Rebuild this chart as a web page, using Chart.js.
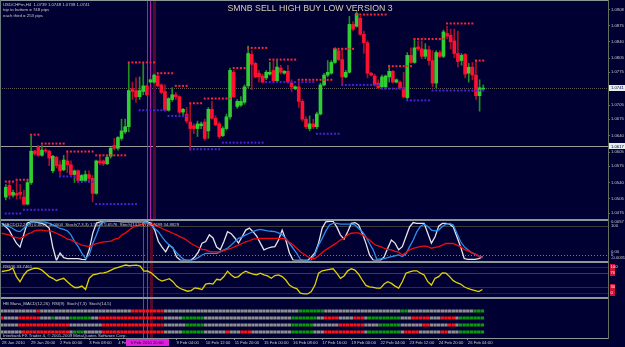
<!DOCTYPE html>
<html>
<head>
<meta charset="utf-8">
<script src="https://cdn.jsdelivr.net/npm/chart.js@4.4.1/dist/chart.umd.min.js"></script>
<style>
html, body { margin: 0; padding: 0; background: #000033; }
#wrap { position: relative; width: 625px; height: 347px; background: #000033; overflow: hidden; }
#wrap canvas { position: absolute; left: 0; }
</style>
</head>
<body>
<div id="wrap">
  <canvas id="cMain" width="625" height="219" style="top:0px"></canvas>
  <canvas id="cOsc" width="625" height="42" style="top:219px"></canvas>
  <canvas id="cRsi" width="625" height="36" style="top:261px"></canvas>
  <canvas id="cHeat" width="625" height="50" style="top:297px"></canvas>
</div>
<script>
// ---- data ----
const chartTitle = 'SMNB SELL HIGH BUY LOW VERSION 3';
const symbolInfo = ['USDCHFm,H4  1.0739 1.0748 1.0738 1.0741', 'top to bottom = 748 pips', 'each third = 253 pips'];
const slotCount = 167; // bars that fit in the window, including the empty right margin

const opens = [1.0509,1.0534,1.0513,1.0517,1.0519,1.0509,1.0494,1.0540,1.0607,1.0615,1.0598,1.0609,1.0607,1.0565,1.0594,1.0578,1.0567,1.0586,1.0578,1.0557,
  1.0565,1.0544,1.0544,1.0557,1.0549,1.0517,1.0586,1.0586,1.0580,1.0596,1.0619,1.0613,1.0634,1.0648,1.0659,1.0740,1.0736,1.0723,1.0734,1.0746,
  1.0754,1.0754,1.0767,1.0748,1.0734,1.0694,1.0717,1.0727,1.0723,1.0690,1.0686,1.0669,1.0661,1.0655,1.0661,1.0669,1.0650,1.0696,1.0677,1.0665,
  1.0640,1.0655,1.0680,1.0775,1.0702,1.0705,1.0711,1.0746,1.0813,1.0794,1.0773,1.0767,1.0763,1.0771,1.0779,1.0757,1.0784,1.0773,1.0777,1.0752,
  1.0740,1.0744,1.0713,1.0675,1.0655,1.0665,1.0659,1.0686,1.0748,1.0769,1.0773,1.0796,1.0821,1.0802,1.0765,1.0775,1.0877,1.0873,1.0890,1.0856,
  1.0838,1.0773,1.0767,1.0752,1.0744,1.0744,1.0765,1.0777,1.0754,1.0754,1.0742,1.0721,1.0811,1.0796,1.0829,1.0825,1.0809,1.0823,1.0800,1.0752,
  1.0817,1.0809,1.0858,1.0854,1.0842,1.0815,1.0800,1.0813,1.0773,1.0786,1.0769,1.0725,1.0739];
const highs = [1.0536,1.0544,1.0524,1.0544,1.0536,1.0524,1.0546,1.0640,1.0609,1.0619,1.0619,1.0613,1.0609,1.0598,1.0596,1.0586,1.0598,1.0607,1.0586,1.0567,
  1.0567,1.0557,1.0565,1.0565,1.0555,1.0588,1.0598,1.0588,1.0598,1.0615,1.0634,1.0638,1.0675,1.0675,1.0794,1.0754,1.0763,1.0765,1.0794,1.0748,
  1.0761,1.0771,1.0773,1.0750,1.0748,1.0721,1.0742,1.0732,1.0725,1.0698,1.0700,1.0707,1.0665,1.0671,1.0669,1.0675,1.0700,1.0713,1.0682,1.0669,
  1.0659,1.0686,1.0784,1.0779,1.0717,1.0723,1.0748,1.0831,1.0821,1.0796,1.0779,1.0771,1.0779,1.0796,1.0800,1.0800,1.0790,1.0779,1.0790,1.0759,
  1.0746,1.0752,1.0717,1.0680,1.0682,1.0675,1.0690,1.0752,1.0773,1.0800,1.0800,1.0827,1.0825,1.0825,1.0779,1.0894,1.0883,1.0904,1.0894,1.0863,
  1.0842,1.0775,1.0771,1.0759,1.0769,1.0769,1.0790,1.0779,1.0761,1.0757,1.0775,1.0817,1.0827,1.0846,1.0842,1.0842,1.0836,1.0831,1.0821,1.0821,
  1.0821,1.0865,1.0873,1.0867,1.0867,1.0863,1.0815,1.0815,1.0794,1.0796,1.0800,1.0759,1.0748];
const lows = [1.0503,1.0505,1.0509,1.0505,1.0505,1.0492,1.0492,1.0536,1.0598,1.0596,1.0596,1.0603,1.0576,1.0561,1.0571,1.0555,1.0565,1.0561,1.0555,1.0540,
  1.0540,1.0540,1.0542,1.0540,1.0499,1.0515,1.0578,1.0576,1.0578,1.0592,1.0609,1.0609,1.0630,1.0644,1.0648,1.0717,1.0711,1.0717,1.0727,1.0725,
  1.0752,1.0752,1.0744,1.0729,1.0692,1.0692,1.0713,1.0717,1.0686,1.0684,1.0667,1.0609,1.0644,1.0638,1.0655,1.0630,1.0634,1.0675,1.0661,1.0634,
  1.0638,1.0652,1.0675,1.0721,1.0698,1.0702,1.0707,1.0742,1.0738,1.0763,1.0754,1.0752,1.0759,1.0769,1.0754,1.0754,1.0771,1.0771,1.0752,1.0734,
  1.0738,1.0700,1.0671,1.0655,1.0650,1.0655,1.0655,1.0684,1.0746,1.0765,1.0771,1.0794,1.0800,1.0748,1.0763,1.0773,1.0863,1.0871,1.0854,1.0815,
  1.0763,1.0767,1.0746,1.0740,1.0742,1.0742,1.0754,1.0752,1.0752,1.0740,1.0721,1.0717,1.0794,1.0794,1.0821,1.0804,1.0804,1.0790,1.0744,1.0742,
  1.0806,1.0806,1.0846,1.0825,1.0806,1.0786,1.0790,1.0763,1.0754,1.0759,1.0717,1.0692,1.0738];
const closes = [1.0530,1.0513,1.0519,1.0513,1.0515,1.0494,1.0540,1.0607,1.0601,1.0598,1.0609,1.0607,1.0592,1.0596,1.0576,1.0565,1.0588,1.0578,1.0557,1.0565,
  1.0544,1.0555,1.0557,1.0549,1.0517,1.0586,1.0582,1.0580,1.0594,1.0613,1.0613,1.0636,1.0650,1.0659,1.0736,1.0734,1.0723,1.0736,1.0746,1.0727,
  1.0759,1.0769,1.0746,1.0732,1.0694,1.0719,1.0727,1.0723,1.0690,1.0696,1.0671,1.0655,1.0655,1.0665,1.0665,1.0634,1.0696,1.0677,1.0663,1.0638,
  1.0655,1.0680,1.0779,1.0723,1.0713,1.0713,1.0744,1.0815,1.0792,1.0765,1.0765,1.0754,1.0775,1.0775,1.0757,1.0786,1.0775,1.0777,1.0754,1.0744,
  1.0744,1.0713,1.0675,1.0659,1.0665,1.0659,1.0686,1.0748,1.0769,1.0775,1.0796,1.0825,1.0802,1.0765,1.0775,1.0877,1.0867,1.0900,1.0856,1.0838,
  1.0773,1.0769,1.0748,1.0742,1.0765,1.0767,1.0777,1.0754,1.0759,1.0742,1.0723,1.0811,1.0796,1.0827,1.0825,1.0809,1.0823,1.0800,1.0752,1.0817,
  1.0809,1.0861,1.0852,1.0840,1.0815,1.0798,1.0811,1.0771,1.0786,1.0769,1.0725,1.0742,1.0741];

// [first bar, last bar, price]
const resistanceSegs = [[0,2,1.0542],[3,6,1.0546],[7,9,1.0642],[10,16,1.0623],[17,24,1.0606],[25,33,1.0598],[34,41,1.0796],[42,46,1.0773],
  [47,50,1.0746],[51,54,1.0709],[55,62,1.0719],[63,66,1.0784],[67,72,1.0827],[73,80,1.0802],[81,90,1.0759],[91,96,1.0825],[97,105,1.0898],
  [106,112,1.0788],[113,121,1.0846],[122,129,1.0879],[130,132,1.0800]];
const supportSegs = [[0,4,1.0474],[5,14,1.0482],[15,19,1.0553],[20,24,1.0542],[25,36,1.0494],[37,44,1.0694],[45,50,1.0682],[51,59,1.0611],
  [60,71,1.0625],[72,85,1.0754],[86,92,1.0644],[93,103,1.0748],[104,110,1.0740],[111,117,1.0715],[118,132,1.0736]];

const priceTicks = [1.0908,1.0875,1.0840,1.0805,1.0775,1.0705,1.0675,1.0640,1.0605,1.0575,1.0540,1.0505,1.0475];
const currentPrice = 1.0741;
const markedPrice = 1.0617;

const stochFast = [94,86,77,60,44,34,65,95,98,98,96,94,90,82,34,0,19,7,5,5,5,5,3,2,27,70,95,98,98,99,99,99,99,98,98,98,98,98,98,98,
  98,94,77,48,34,22,39,32,9,1,0,0,1,9,22,44,48,65,57,34,27,48,73,68,57,44,60,77,82,73,62,44,27,31,34,35,52,77,52,19,
  1,0,0,0,0,9,19,44,82,98,99,99,85,65,54,73,94,96,90,69,44,14,1,0,0,9,31,52,44,27,35,60,85,96,94,94,94,69,44,60,
  87,94,94,92,85,60,35,5,3,3,3,5,9];
const stochMain = [90,88,86,81,75,73,81,90,97,98,98,98,97,94,90,86,81,79,75,65,48,35,18,5,14,43,65,90,98,100,100,100,100,100,100,100,100,100,100,98,
  96,90,81,73,60,48,39,31,20,10,3,0,0,3,8,14,18,18,18,18,22,27,31,39,48,56,60,65,69,73,77,79,77,75,74,73,70,65,56,43,
  31,18,3,0,0,1,15,39,56,75,90,94,94,92,92,92,92,90,81,73,60,43,27,3,4,5,7,10,12,14,10,17,35,52,73,87,92,86,77,75,
  77,86,92,94,90,69,48,35,27,20,16,11,10];
const stochSlow = [69,67,65,60,58,56,60,67,70,75,77,77,75,75,73,69,65,60,54,52,48,43,39,37,35,39,43,45,47,48,49,54,56,65,70,77,84,88,91,92,
  94,92,90,86,81,77,73,69,65,60,56,50,43,38,33,28,27,23,22,22,22,25,28,31,35,39,43,47,50,54,55,56,56,56,56,56,56,56,54,46,
  39,31,22,16,10,5,5,12,20,27,33,39,45,52,57,65,69,70,70,65,59,52,43,38,35,31,28,27,23,21,14,20,27,31,33,35,37,35,31,33,
  35,39,43,43,43,39,35,28,25,20,16,11,7];
const oscLevels = [87, 14];

const rsi = [75,77,79,85,60,45,64,77,81,85,84,79,70,60,55,48,52,55,45,35,28,28,32,22,55,65,67,70,71,74,79,84,87,91,94,92,93,94,91,76,
  77,71,62,52,47,50,54,45,32,25,21,17,19,27,25,22,38,40,38,52,50,60,76,65,57,60,70,76,71,67,65,70,65,62,55,63,65,60,50,35,
  28,25,11,9,9,16,35,70,77,79,81,83,70,55,62,77,83,79,67,50,34,30,28,26,26,38,45,40,32,26,45,70,74,77,77,70,65,45,35,55,
  60,71,70,60,48,42,38,30,25,22,19,16,22];
const rsiLevels = [88, 70, 30, 12];

// heat map rows, run-length: [count, state]  r = red, g = green, . = grey
const heatRows = [
  [[10,'.'],[1,'r'],[25,'.'],[9,'r'],[37,'.'],[7,'g'],[21,'.'],[2,'g'],[18,'.'],[3,'g']],
  [[1,'r'],[4,'.'],[6,'r'],[3,'.'],[1,'g'],[4,'.'],[6,'g'],[2,'.'],[18,'r'],[5,'.'],[6,'g'],[24,'.'],[7,'g'],[2,'.'],[4,'r'],[4,'.'],[3,'r'],[1,'.'],[9,'g'],[3,'.'],[5,'r'],[3,'.'],[4,'r'],[1,'.'],[7,'g']],
  [[5,'.'],[14,'r'],[9,'.'],[17,'r'],[6,'.'],[5,'g'],[24,'.'],[6,'g'],[7,'.'],[7,'r'],[4,'.'],[6,'g'],[6,'.'],[2,'r'],[5,'.'],[2,'r'],[1,'.'],[7,'g']],
  [[6,'.'],[13,'r'],[1,'.'],[3,'g'],[5,'.'],[17,'r'],[5,'.'],[6,'g'],[6,'.'],[1,'r'],[3,'.'],[3,'r'],[11,'.'],[6,'g'],[3,'.'],[11,'r'],[1,'.'],[9,'g'],[1,'.'],[4,'r'],[6,'.'],[2,'r'],[3,'.'],[7,'g']]
];

const timeLabels = ['28 Jan 2010','29 Jan 20:00','2 Feb 00:00','3 Feb 08:00','4 Feb 16:00','','9 Feb 04:00','10 Feb 12:00','11 Feb 20:00',
  '15 Feb 00:00','16 Feb 08:00','17 Feb 16:00','19 Feb 00:00','22 Feb 04:00','23 Feb 12:00','24 Feb 20:00','26 Feb 04:00'];
const labelEvery = 8;
const cursorLines = [{ bar: 38.9, color: '#b01cb0', width: 1 }, { bar: 40.0, color: '#b01cb0', width: 1 }, { bar: 40.85, color: '#55082c', width: 3 }];
const cursorLabel = { bar: 34.0, text: '5 Feb 2010 20:00' };

const oscText = 'MACD(12,26,9) 0.0026 -0.0004  Stoch(7,3,3) 1.5625 5.6576  Stoch(14,5,5) 28.7699 34.8829';
const oscSideLabels = [['0.0057', 97], ['100', 89], ['0.00', 21], ['0', 14], ['-0.0031', 6]];
const rsiText = 'RSI(9) 33.7461';
const rsiSideLabels = [['100', 88], ['70', 70], ['30', 30], ['0', 12]];
const heatText = 'HB Mana_MACD(12,26)  RSI(9)  Stoch(7,3)  Stoch(14,5)';
const footerText = 'Interbank FX Trader 4, \u00a9 2001-2009 MetaQuotes Software Corp.';

// ---- styling ----
const FONT = '"Liberation Sans", Arial, sans-serif';
const TXT = '#c9c9c9';
const SEP = '#8a9898';
const AXIS = '#62725f';
const upBody = '#32cd32', downBody = '#ff1030', upWick = '#1f8f1f', downWick = '#a8102a';
const heatColors = { '.': '#8e8e8e', r: '#ff1414', g: '#0c9a0c' };

const slots = Array.from({ length: slotCount }, (_, i) => String(i));

function segPoints(segs) {
  const out = new Array(opens.length).fill(null);
  segs.forEach(([a, b, p]) => { for (let i = a; i <= b; i++) out[i] = p; });
  return out;
}
function expandRuns(runs) {
  const out = [];
  runs.forEach(([n, s]) => { for (let i = 0; i < n; i++) out.push(s); });
  return out;
}
function barX(chart, b) {
  const x = chart.scales.x;
  const step = x.getPixelForValue(1) - x.getPixelForValue(0);
  return x.getPixelForValue(0) + b * step;
}
function txt(ctx, s, x, y, size, color, align) {
  ctx.font = size + 'px ' + FONT;
  ctx.fillStyle = color;
  ctx.textAlign = align || 'left';
  ctx.textBaseline = 'middle';
  ctx.fillText(s, x, y);
}

// frame, separators and cursor lines, shared by all panes
function paneFrame(opts) {
  return {
    id: 'paneFrame',
    beforeDatasetsDraw(chart) {
      const ctx = chart.ctx;
      const bottom = opts.bottom != null ? opts.bottom : chart.height;
      ctx.save();
      cursorLines.forEach(m => {
        const x = Math.round(barX(chart, m.bar)) + 0.5;
        ctx.strokeStyle = m.color; ctx.lineWidth = m.width;
        ctx.beginPath(); ctx.moveTo(x, 0); ctx.lineTo(x, bottom); ctx.stroke();
      });
      ctx.restore();
    },
    afterDraw(chart) {
      const ctx = chart.ctx, right = chart.chartArea.right;
      const bottom = opts.bottom != null ? opts.bottom : chart.height;
      ctx.save();
      ctx.fillStyle = SEP;
      if (opts.sep) ctx.fillRect(0, 0, right, opts.sep);
      if (opts.bottom != null) ctx.fillRect(0, opts.bottom, right + 1, 1);
      ctx.fillStyle = '#6c7a7a';
      ctx.fillRect(0, 0, 1, bottom);
      ctx.fillStyle = AXIS;
      ctx.fillRect(right, 0, 1, bottom + 1);
      ctx.restore();
      if (opts.after) opts.after(chart);
    }
  };
}

function yRight(extra) {
  return Object.assign({
    position: 'right',
    afterFit(s) { s.width = 17; },
    border: { display: false },
    grid: { display: false },
    ticks: { display: false }
  }, extra);
}
const xHidden = { type: 'category', display: false, offset: true };
const baseOpts = { responsive: false, animation: false, devicePixelRatio: 1, events: [],
  plugins: { legend: { display: false }, tooltip: { enabled: false } } };

// ---- main price pane ----
new Chart(document.getElementById('cMain'), {
  type: 'bar',
  data: {
    labels: slots,
    datasets: [
      { type: 'line', data: segPoints(resistanceSegs), showLine: false, pointStyle: 'rect', pointRadius: 1.4,
        pointBackgroundColor: '#ff2438', pointBorderWidth: 0, order: 1 },
      { type: 'line', data: segPoints(supportSegs), showLine: false, pointStyle: 'rect', pointRadius: 1.4,
        pointBackgroundColor: '#4b22d6', pointBorderWidth: 0, order: 1 },
      { data: opens.map((o, i) => [o, closes[i]]), grouped: false, barThickness: 3, minBarLength: 1, order: 2,
        backgroundColor: opens.map((o, i) => closes[i] >= o ? upBody : downBody) },
      { data: lows.map((l, i) => [l, highs[i]]), grouped: false, barThickness: 1, order: 3,
        backgroundColor: opens.map((o, i) => closes[i] >= o ? upWick : downWick) }
    ]
  },
  options: Object.assign({}, baseOpts, {
    layout: { padding: { top: 2, bottom: 1, left: 0, right: 0 } },
    scales: {
      x: xHidden,
      y: {
        position: 'right', min: 1.04708, max: 1.09205,
        afterFit(s) { s.width = 17; },
        afterBuildTicks(s) { s.ticks = priceTicks.map(v => ({ value: v })); },
        border: { display: false },
        grid: { drawOnChartArea: false, drawTicks: true, tickLength: 2, color: AXIS },
        ticks: { color: TXT, padding: 1, font: { size: 4.2, family: FONT }, callback: v => v.toFixed(4) }
      }
    }
  }),
  plugins: [
    {
      id: 'priceLines',
      beforeDatasetsDraw(chart) {
        const ctx = chart.ctx, y = chart.scales.y, r = chart.chartArea.right;
        ctx.save();
        const yc = Math.round(y.getPixelForValue(currentPrice)) + 0.5;
        ctx.strokeStyle = '#5c5c5c'; ctx.lineWidth = 1; ctx.setLineDash([1, 1]);
        ctx.beginPath(); ctx.moveTo(0, yc); ctx.lineTo(r, yc); ctx.stroke();
        ctx.setLineDash([]);
        const ym = Math.round(y.getPixelForValue(markedPrice)) + 0.5;
        ctx.strokeStyle = '#9c9c9c';
        ctx.beginPath(); ctx.moveTo(0, ym); ctx.lineTo(r, ym); ctx.stroke();
        ctx.restore();
      },
      afterDraw(chart) {
        const ctx = chart.ctx, y = chart.scales.y, r = chart.chartArea.right;
        ctx.save();
        [currentPrice, markedPrice].forEach(p => {
          const py = y.getPixelForValue(p);
          ctx.fillStyle = '#e4eef0';
          ctx.fillRect(r + 1, Math.round(py) - 3, 16, 6);
          txt(ctx, p.toFixed(4), r + 3, py, 4.2, '#000033');
        });
        // title, squeezed to the narrow face used in the terminal
        ctx.save();
        ctx.translate(310, 8.5);
        ctx.scale(0.92, 1);
        txt(ctx, chartTitle, 0, 0, 9.5, '#d4cdb6', 'center');
        ctx.restore();
        symbolInfo.forEach((s, i) => txt(ctx, s, 3, 5 + i * 5.3, 4.3, TXT));
        ctx.restore();
      }
    },
    paneFrame({ sep: 1 })
  ]
});

// ---- MACD / stochastic pane ----
new Chart(document.getElementById('cOsc'), {
  type: 'line',
  data: {
    labels: slots,
    datasets: [
      { data: stochSlow, borderColor: '#f00c0c', borderWidth: 1.3, pointRadius: 0 },
      { data: stochMain, borderColor: '#2c8ee8', borderWidth: 1.3, pointRadius: 0 },
      { data: stochFast, borderColor: '#e6e6e6', borderWidth: 1.3, pointRadius: 0 }
    ]
  },
  options: Object.assign({}, baseOpts, {
    layout: { padding: { top: 2, bottom: 0.5, left: 0, right: 0 } },
    scales: { x: xHidden, y: yRight({ min: 0, max: 100 }) }
  }),
  plugins: [
    {
      id: 'oscLevels',
      beforeDatasetsDraw(chart) {
        const ctx = chart.ctx, y = chart.scales.y, r = chart.chartArea.right;
        ctx.save();
        const y0 = Math.round(y.getPixelForValue(oscLevels[0])) + 0.5;
        ctx.strokeStyle = '#3c3c3c'; ctx.lineWidth = 1;
        ctx.beginPath(); ctx.moveTo(0, y0); ctx.lineTo(r, y0); ctx.stroke();
        const y1 = Math.round(y.getPixelForValue(oscLevels[1])) + 0.5;
        ctx.strokeStyle = '#7a7a7a'; ctx.setLineDash([1, 2]);
        ctx.beginPath(); ctx.moveTo(0, y1); ctx.lineTo(r, y1); ctx.stroke();
        ctx.restore();
      }
    },
    paneFrame({
      sep: 2,
      after(chart) {
        const ctx = chart.ctx, y = chart.scales.y, r = chart.chartArea.right;
        txt(ctx, oscText, 3, 5.5, 4.3, TXT);
        oscSideLabels.forEach(([s, v]) => txt(ctx, s, r + 3, y.getPixelForValue(v), 4.2, TXT));
      }
    })
  ]
});

// ---- RSI pane ----
new Chart(document.getElementById('cRsi'), {
  type: 'line',
  data: { labels: slots, datasets: [{ data: rsi, borderColor: '#e2d200', borderWidth: 1.3, pointRadius: 0 }] },
  options: Object.assign({}, baseOpts, {
    layout: { padding: { top: 2, bottom: 0, left: 0, right: 0 } },
    scales: { x: xHidden, y: yRight({ min: 0, max: 100 }) }
  }),
  plugins: [
    {
      id: 'rsiLevels',
      beforeDatasetsDraw(chart) {
        const ctx = chart.ctx, y = chart.scales.y, r = chart.chartArea.right;
        const cols = ['#6a0a2c', '#8c1636', '#7a0c22', '#5c0818'];
        ctx.save();
        rsiLevels.forEach((lv, i) => {
          const py = Math.round(y.getPixelForValue(lv)) + 0.5;
          ctx.strokeStyle = cols[i]; ctx.lineWidth = 1;
          ctx.beginPath(); ctx.moveTo(0, py); ctx.lineTo(r, py); ctx.stroke();
        });
        ctx.restore();
      }
    },
    paneFrame({
      sep: 2,
      after(chart) {
        const ctx = chart.ctx, y = chart.scales.y, r = chart.chartArea.right;
        txt(ctx, rsiText, 3, 6, 4.3, TXT);
        rsiSideLabels.forEach(([s, v]) => {
          const py = y.getPixelForValue(v);
          ctx.fillStyle = '#d0103a';
          ctx.fillRect(r + 2, Math.round(py) - 3, 5, 6);
          txt(ctx, s, r + 2.5, py, 4.2, '#f0f0f0');
        });
      }
    })
  ]
});

// ---- heat map pane with the time axis ----
const heatStates = heatRows.map(expandRuns);
new Chart(document.getElementById('cHeat'), {
  type: 'bar',
  data: {
    labels: slots,
    datasets: heatStates.map((row, k) => ({
      data: row.map(() => [k + 1 - 0.17, k + 1 + 0.17]),
      backgroundColor: row.map(s => heatColors[s]),
      grouped: false, barThickness: 2.7
    }))
  },
  options: Object.assign({}, baseOpts, {
    layout: { padding: { top: 1, bottom: 0, left: 0, right: 0 } },
    scales: {
      x: {
        type: 'category', offset: true, position: 'bottom',
        afterFit(s) { s.height = 9; },
        border: { display: false },
        grid: { drawOnChartArea: false, drawTicks: true, tickLength: 2, offset: false,
          color: c => (c.index % labelEvery === 0 && timeLabels[c.index / labelEvery] !== undefined) ? SEP : 'rgba(0,0,0,0)' },
        ticks: {
          autoSkip: false, maxRotation: 0, minRotation: 0, align: 'start', padding: 0,
          color: TXT, font: { size: 4.2, family: FONT },
          callback: (v, i) => (i % labelEvery === 0 && timeLabels[i / labelEvery]) ? timeLabels[i / labelEvery] : ''
        }
      },
      y: yRight({ min: -0.857, max: 4.857, reverse: true })
    }
  }),
  plugins: [
    paneFrame({
      sep: 2, bottom: 41,
      after(chart) {
        const ctx = chart.ctx;
        txt(ctx, heatText, 3, 6.5, 4.3, TXT);
        txt(ctx, footerText, 3, 38.5, 4.3, TXT);
        const x0 = barX(chart, cursorLabel.bar);
        ctx.fillStyle = '#e01ee0';
        ctx.fillRect(Math.round(x0), 42, 43, 7);
        txt(ctx, cursorLabel.text, x0 + 21.5, 45.5, 4.2, '#200020', 'center');
      }
    })
  ]
});
</script>
</body>
</html>
